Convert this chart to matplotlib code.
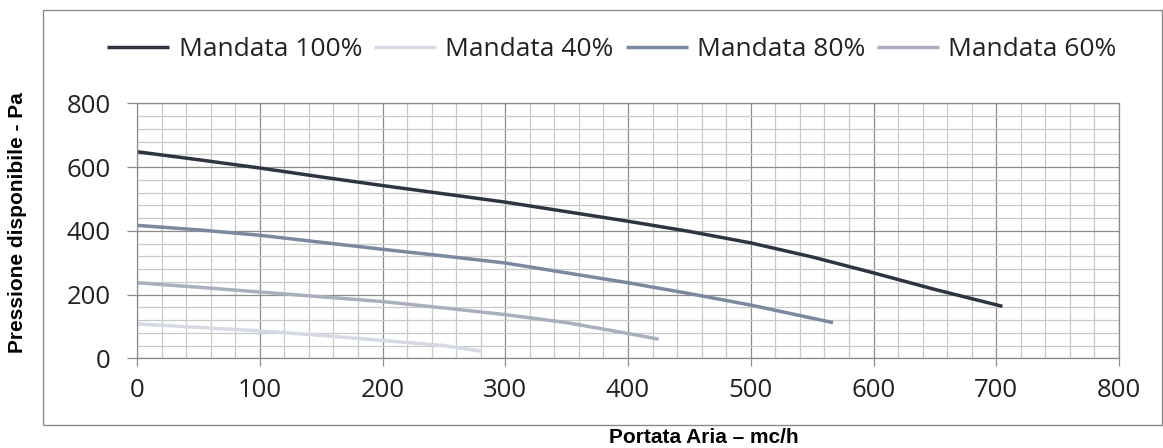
import numpy as np
import matplotlib
matplotlib.use("Agg")
import matplotlib.pyplot as plt
from matplotlib.patches import Rectangle
from matplotlib.ticker import MultipleLocator

# curves (portata mc/h -> pressione Pa)
x_100 = [0, 50, 100, 150, 200, 250, 300, 350, 400, 450, 500, 550, 600, 650, 705]
y_100 = [648, 623, 597, 569, 542, 516, 490, 460, 430, 398, 362, 318, 268, 216, 163]

x_40 = [0, 50, 100, 150, 200, 250, 281]
y_40 = [108, 97, 86, 72, 56, 40, 22]

x_80 = [0, 50, 100, 150, 200, 250, 300, 350, 400, 450, 500, 567]
y_80 = [417, 403, 386, 364, 342, 321, 299, 268, 237, 203, 167, 112]

x_60 = [0, 50, 100, 150, 200, 250, 300, 350, 400, 425]
y_60 = [237, 223, 208, 193, 178, 158, 137, 112, 78, 60]

labels = ["Mandata 100%", "Mandata 40%", "Mandata 80%", "Mandata 60%"]
colors = ["#2e3441", "#d6dbe3", "#7b899e", "#a9afbe"]

W, H = 1163, 448
fig = plt.figure(figsize=(W / 100, H / 100), dpi=100)

# outer chart frame
fig.patches.append(Rectangle((42.5 / W, 1 - 424.5 / H), (1162 - 42.5) / W, (424.5 - 10) / H,
                             transform=fig.transFigure, fill=False, edgecolor="#8a8a8a", linewidth=1.0))

ax = fig.add_axes([137 / W, 1 - 358.3 / H, (1119 - 137) / W, (358.3 - 103.3) / H])

series = [(x_100, y_100), (x_40, y_40), (x_80, y_80), (x_60, y_60)]
for (xs, ys), lab, col in zip(series, labels, colors):
    ax.plot(xs, ys, color=col, linewidth=2.5, label=lab, solid_capstyle="butt")

ax.set_xlim(0, 800)
ax.set_ylim(0, 800)
ax.xaxis.set_major_locator(MultipleLocator(100))
ax.xaxis.set_minor_locator(MultipleLocator(20))
ax.yaxis.set_major_locator(MultipleLocator(200))
ax.yaxis.set_minor_locator(MultipleLocator(40))
ax.grid(which="major", color="#8c8c8c", linewidth=0.9)
ax.grid(which="minor", color="#c9c9c9", linewidth=0.9)
ax.set_axisbelow(True)
for s in ax.spines.values():
    s.set_color("#8c8c8c")
    s.set_linewidth(0.9)

ax.tick_params(which="major", width=0.9, color="#8c8c8c", direction="out",
               labelsize=18.5, labelcolor="#222222")
ax.tick_params(axis="x", which="major", length=6, pad=8)
ax.tick_params(axis="y", which="major", length=7, pad=12)
ax.tick_params(which="minor", length=0)
for lbl in ax.get_xticklabels() + ax.get_yticklabels():
    lbl.set_family("Open Sans")

fig.text(704 / W, 1 - 437 / H, "Portata Aria \u2013 mc/h", ha="center", va="center",
         fontsize=15, fontweight="bold", family="Liberation Sans")
fig.text(18 / W, 1 - 223 / H, "Pressione disponibile - Pa", ha="center", va="center",
         rotation=90, fontsize=15, fontweight="bold", family="Liberation Sans")

leg = fig.legend(loc="center", bbox_to_anchor=(612 / W, 1 - 50 / H), ncol=4, frameon=False,
                 prop={"family": "Open Sans", "size": 19}, handlelength=2.35, handletextpad=0.35,
                 columnspacing=0.45, borderaxespad=0)
for t in leg.get_texts():
    t.set_color("#222222")

fig.savefig("out.png", dpi=100)
